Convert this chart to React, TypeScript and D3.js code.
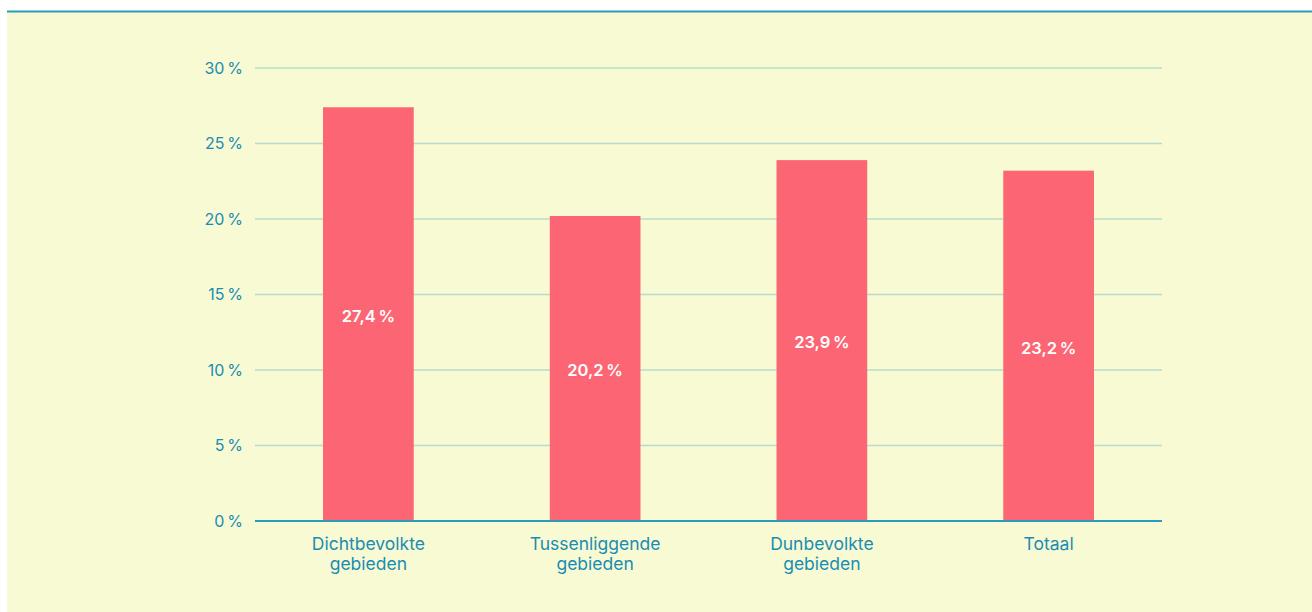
import React from "react";
import * as d3 from "d3";

const categories: string[][] = [
  ["Dichtbevolkte", "gebieden"],
  ["Tussenliggende", "gebieden"],
  ["Dunbevolkte", "gebieden"],
  ["Totaal"],
];
const values: number[] = [27.4, 20.2, 23.9, 23.2];
const yTicks: number[] = [0, 5, 10, 15, 20, 25, 30];

const W = 1312;
const H = 612;
const fmt = (v: number) => v.toFixed(1).replace(".", ",") + "\u2009%";

export default function App() {
  const x = d3
    .scaleBand<number>()
    .domain(values.map((_, i) => i))
    .range([255, 1162])
    .paddingInner(0.6)
    .paddingOuter(0.3);
  const y = d3.scaleLinear().domain([0, 30]).range([521, 68]);
  const textColor = "#1a8db2";
  return (
    <div style={{ position: "absolute", left: 0, top: 0 }}>
      <svg width={W} height={H} style={{ display: "block", fontFamily: "Inter, sans-serif" }}>
        <rect x={0} y={0} width={W} height={H} fill="#ffffff" />
        <rect x={7} y={12} width={W - 7} height={H - 12} fill="#f8fad4" />
        <line x1={7} x2={W} y1={11.5} y2={11.5} stroke="#2b9bbb" strokeWidth={2} />
        {yTicks.map((t) => (
          <g key={t}>
            {t !== 0 && (
              <line x1={255} x2={1162} y1={y(t)} y2={y(t)} stroke="#b7dccb" strokeWidth={1.5} />
            )}
            <text x={243} y={y(t)} dy="0.35em" textAnchor="end" fontSize={16} fill={textColor}>
              {t}{"\u2009"}%
            </text>
          </g>
        ))}
        {values.map((v, i) => (
          <g key={i}>
            <rect x={x(i)} y={y(v)} width={x.bandwidth()} height={y(0) - y(v)} fill="#fc6674" />
            <text
              x={(x(i) as number) + x.bandwidth() / 2}
              y={(y(v) + y(0)) / 2 + 2}
              dy="0.35em"
              textAnchor="middle"
              fontSize={16.5}
              fontWeight={600}
              fill="#ffffff"
            >
              {fmt(v)}
            </text>
            <text
              x={(x(i) as number) + x.bandwidth() / 2}
              y={544}
              textAnchor="middle"
              fontSize={17.5}
              fill={textColor}
            >
              {categories[i].map((line, j) => (
                <tspan key={j} x={(x(i) as number) + x.bandwidth() / 2} dy={j === 0 ? "0.35em" : 20}>
                  {line}
                </tspan>
              ))}
            </text>
          </g>
        ))}
        <line x1={255} x2={1162} y1={y(0)} y2={y(0)} stroke="#2b9bbb" strokeWidth={2} />
      </svg>
    </div>
  );
}
